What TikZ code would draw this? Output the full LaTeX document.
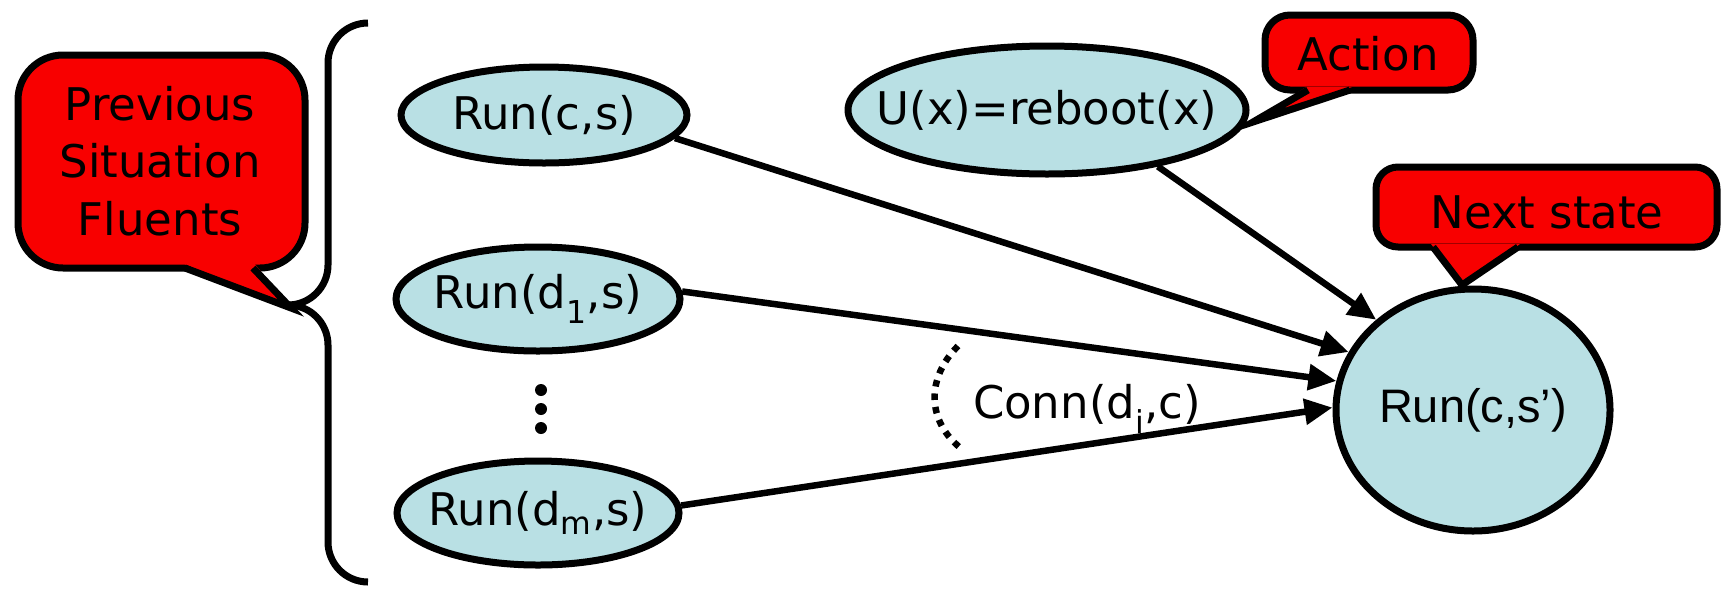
\documentclass[tikz,border=0pt]{standalone}
\usepackage{fontspec}
\setmainfont{DejaVu Sans}
\newfontfamily\arialfont{Liberation Sans}
\usetikzlibrary{shapes.geometric,arrows.meta}
\definecolor{nodefill}{RGB}{185,224,228}
\definecolor{calloutred}{RGB}{248,0,0}
\begin{document}
\begin{tikzpicture}[x=1pt,y=-1pt,
  comic/.style={font=\fontsize{45}{57.5}\selectfont},
  statenode/.style={ellipse, draw, line width=7pt, fill=nodefill, inner sep=0pt},
  calloutbox/.style={draw, line width=7pt, fill=calloutred},
  tailedge/.style={line width=7pt},
  link/.style={line width=6.5pt, -{Triangle[length=28pt,width=25pt]}},
  bracepath/.style={line width=7pt, rounded corners=40pt},
  dotmark/.style={circle, fill, inner sep=0pt, minimum size=12pt}]

\useasboundingbox (0,0) rectangle (1723,590);

% state nodes (text set as centred labels so the outline keeps its size)
\node[statenode, minimum width=286pt, minimum height=96pt,
      label={[comic]center:Run(c,s)}] (runcs) at (544,115) {};
\node[statenode, minimum width=284pt, minimum height=104pt,
      label={[comic]center:Run(d\textsubscript{1},s)}] (rund1) at (538,299) {};
\node[statenode, minimum width=282pt, minimum height=104pt,
      label={[comic]center:Run(d\textsubscript{m},s)}] (rundm) at (538,513) {};
\node[statenode, minimum width=398pt, minimum height=128pt,
      label={[comic]center:U(x)=reboot(x)}] (reboot) at (1047,110) {};
\node[statenode, minimum width=274pt, minimum height=242pt,
      label={[font=\arialfont\fontsize{47}{56}\selectfont]center:Run(c,s’)}] (next) at (1473,410) {};

% vertical ellipsis
\node[dotmark] (dota) at (541,390) {};
\node[dotmark] (dotb) at (541,409) {};
\node[dotmark] (dotc) at (541,428) {};

% connectors into the next-state node
\draw[link] (runcs.-10) -- (next.155);
\draw[link] (reboot.-27) -- (next.137);
\draw[link] (rund1.3) -- (next.168);
\draw[link] (rundm.3) -- (next.179);

% connection label with dotted arc
\draw[line width=6.5pt, dash pattern=on 6.5pt off 7pt] (958,346) .. controls (926,378) and (926,422) .. (963,450);
\node[comic, anchor=base] (conn) at (1087,418) {Conn(d\textsubscript{i},c)};

% brace grouping the previous fluents
\draw[bracepath] (368,23) -- (328,23) -- (328,305) -- (288,305);
\draw[bracepath] (288,305) -- (328,305) -- (328,582) -- (368,582);

% callout: previous situation fluents
\draw[calloutbox, rounded corners=45pt] (18,55) rectangle (305,268);
\fill[calloutred] (182,263) -- (254,263) -- (291,308) -- cycle;
\draw[tailedge] (185,268) -- (291,308) -- (253,268);
\node[comic, align=center] (prevtxt) at (160,161) {Previous\\Situation\\Fluents};

% callout: action
\draw[calloutbox, rounded corners=25pt] (1265,15) rectangle (1473,90);
\fill[calloutred] (1306,87) -- (1352,87) -- (1253,122) -- cycle;
\draw[tailedge] (1308,90) -- (1253,122) -- (1350,90);
\node[comic, anchor=base] (acttxt) at (1368,70) {Action};

% callout: next state
\draw[calloutbox, rounded corners=22pt] (1376,167) rectangle (1717,247);
\fill[calloutred] (1431,244) -- (1520,244) -- (1462,285) -- cycle;
\draw[tailedge] (1433,247) -- (1462,285) -- (1518,247);
\node[comic, anchor=base] (nexttxt) at (1547,228) {Next state};

\end{tikzpicture}
\end{document}
